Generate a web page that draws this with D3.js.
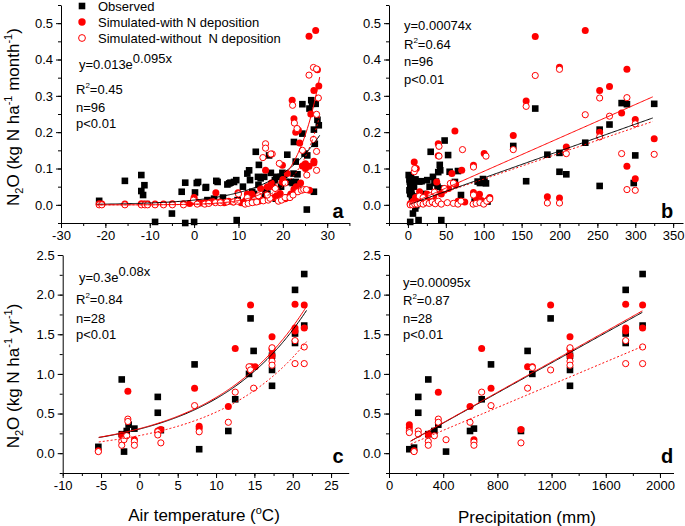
<!DOCTYPE html>
<html><head><meta charset="utf-8">
<script src="https://cdn.jsdelivr.net/npm/d3@7"></script>
<style>
html,body{margin:0;padding:0;background:#fff;}
svg{display:block;font-family:"Liberation Sans",Arial,sans-serif;}
</style></head>
<body><svg id="chart" width="685" height="526"></svg>
<script>
// ---------- DATA ----------
// Panel a: monthly N2O vs air temperature
const obsA = [[-21.4,0.011],[-15.6,0.066],[-11.9,0.082],[-11.9,0.038],[-11.2,0.054],[-11.5,0.027],[-10.7,0.002],[-8.8,-0.047],[-5.0,-0.024],[-2.8,0.036],[-2.0,0.061],[-2.0,-0.05],[0,-0.047],[0.2,0.034],[0.6,0.06],[0.9,0.063],[2.6,0.047],[3.0,0.013],[4.5,0.017],[5.3,0.063],[7.5,0.056],[7.9,0.059],[9.0,0.063],[9.5,0.068],[9.6,-0.042],[9.8,0.013],[12.0,0.086],[12.4,0.095],[12.6,0.068],[13.1,0.036],[13.5,0.03],[13.9,0.146],[14.6,0.11],[14.4,0.077],[15.8,0.077],[16.1,0.036],[16.5,0.031],[16.9,0.136],[17.6,0.057],[18.2,0.068],[18.4,0.017],[19.5,0.077],[19.9,0.088],[20.3,0.082],[20.6,0.063],[21.0,0.138],[21.8,0.063],[22.4,0.086],[22.5,0.173],[22.9,0.063],[23.3,0.084],[23.5,0.059],[24.4,0.277],[24.4,0.196],[24.9,0.141],[25.4,-0.013],[25.5,0.136],[26.0,0.265],[26.4,0.288],[26.6,0.278],[27.0,0.207],[27.2,0.168],[27.4,0.278],[27.8,0.234],[28.1,0.219],[27.0,0.036],[15.0,0.073],[17.3,0.088],[18.5,0.077],[22.2,0.06],[22.9,0.119],[8.2,0.061],[5.0,0.066],[2.7,0.049],[19.6,0.05],[21,0.02],[11,0.05],[6.5,0.02],[16,0.02],[14.5,0.055]];
const withA = [[-21.4,0.003],[-20.8,0.002],[-15.6,0.002],[-11.9,0.003],[-11.2,0.002],[-10.5,0.002],[-8.8,0.002],[-6.9,0.002],[-4.9,0.003],[-2.4,0.003],[-1,0.004],[0,0.02],[0.6,0.008],[1.5,0.005],[2.4,0.006],[3.3,0.005],[4.1,0.01],[4.9,0.033],[5.8,0.008],[6.8,0.006],[7.8,0.01],[8.8,0.008],[9.9,0.033],[10.6,0.006],[11.6,0.012],[12.4,0.02],[13,0.03],[13.6,0.008],[14.5,0.01],[15.2,0.012],[16.1,0.095],[16.5,0.05],[17,0.05],[17.4,0.06],[18,0.02],[18.6,0.025],[19.4,0.031],[19.9,0.109],[19.9,0.062],[20.5,0.017],[21,0.086],[21.4,0.022],[21.8,0.03],[22.1,0.288],[22.5,0.237],[22.9,0.2],[23.5,0.205],[22.5,0.043],[23.8,0.17],[24.4,0.107],[25.1,0.1],[25.1,0.113],[25.9,0.106],[25.9,0.464],[27.4,0.48],[27.0,0.315],[27.8,0.372],[28.1,0.327],[27.0,0.115],[27.0,0.12],[26.3,0.25],[24.0,0.06],[23,0.05],[26,0.04],[20,0.07],[15,0.045],[12,0.03]];
const withoutA = [[-21.4,0],[-20.8,0],[-15.6,0],[-11.9,0],[-11.1,0],[-10.5,0],[-8.8,0],[-6.9,0],[-4.9,0],[-2.4,0],[-0.15,0.013],[0.7,0.002],[2.4,0.002],[3.3,0.004],[4.8,0.006],[5.9,0.006],[7.4,0.008],[8.9,0.008],[9.8,0.01],[11.5,0.002],[12.2,0.004],[13.1,0.006],[14.1,0.008],[15.6,0.011],[16.7,0.013],[17.1,0.018],[16.5,0.027],[19,0.01],[19.7,0.013],[20.5,0.02],[21.6,0.02],[22.3,0.027],[23.4,0.036],[24.2,0.04],[24.7,0.042],[25.3,0.042],[16.1,0.168],[16.1,0.156],[17.6,0.14],[17.3,0.14],[19.2,0.114],[15.5,0.13],[25.9,0.357],[26.9,0.378],[27.6,0.374],[22.2,0.274],[22.6,0.225],[23.2,0.21],[28,0.294],[27.6,0.249],[25.4,0.082],[27.6,0.147],[27.6,0.095],[26.9,0.18],[24.4,0.15],[20.5,0.06],[18.3,0.045],[12,0.02],[14.5,0.025],[10,0.03]];

// Panel b: monthly N2O vs precipitation
const obsB = [[1,0.082],[2,0.07],[2.5,0.064],[3,0.055],[3.5,0.046],[4,0.077],[4.5,0.037],[5,0.027],[5.5,0.018],[6,0.013],[2,0.04],[3,0.03],[7,0.06],[8,0.05],[3,-0.047],[6.6,-0.024],[9.7,-0.01],[14,-0.042],[11,-0.001],[15,0.064],[12,0.023],[10,0.07],[25.5,0.068],[28.6,0.05],[30,0.146],[33,0.077],[35,0.06],[37,0.064],[39,0.05],[40,0.09],[42,0.11],[42.6,0.095],[44,-0.042],[48.4,0.177],[53,0.137],[55,0.091],[62,0.063],[66,0.093],[70,0.027],[88,0.009],[92,0.064],[95,0.06],[99,0.071],[101,0.064],[103,0.059],[105,0.009],[139,0.162],[156,0.065],[168,0.265],[184,0.138],[200,0.143],[200,0.091],[209,0.084],[234,0.171],[253,0.052],[253,0.207],[266,0.221],[282,0.28],[289,0.277],[300,0.136],[298,0.06],[325,0.278],[20,0.03],[18,0.065],[45,0.045]];
const withB = [[8.3,0.118],[11,0.1],[15.4,0.036],[40,0.168],[62,0.203],[58,0.086],[71,0.095],[38,0.063],[53.6,0.045],[86.5,0.109],[86.5,0.034],[94.4,0.029],[100.6,0.141],[106,0.015],[139,0.191],[156,0.286],[168,0.463],[184,0.022],[200,0.379],[200,0.019],[209,0.159],[234,0.48],[253,0.315],[253,0.2],[266,0.326],[282,0.253],[289,0.373],[289,0.106],[300,0.235],[300,0.072],[325,0.182],[3,0.003],[5,0.005],[7,0.01],[10,0.02],[13,0.008],[18,0.01],[22,0.012],[26,0.015],[30,0.02],[34,0.025],[44,0.03],[48,0.04],[63,0.055],[66,0.01],[75,0.008],[90,0.02],[97,0.012],[108,0.02],[40,0.135],[25,0.03]];
const withoutB = [[3,0],[6,0],[9,0.002],[12,0.002],[16,0.004],[20,0.002],[24,0.006],[28,0.004],[32,0.008],[36,0.003],[40,0.01],[44,0.002],[52,0.006],[60,0.004],[66,0.002],[70,0.01],[86,0.002],[90,0.004],[95,0.006],[100,0.002],[104,0.01],[108,0.016],[8.3,0.091],[9,0.1],[15,0.024],[41,0.161],[41,0.134],[72,0.152],[56,0.059],[86.5,0.104],[86.5,0.027],[103,0.134],[139,0.152],[156,0.271],[168,0.356],[184,0.005],[200,0.373],[200,0.005],[209,0.141],[234,0.248],[253,0.294],[253,0.187],[266,0.244],[282,0.141],[289,0.295],[289,0.042],[300,0.223],[300,0.04],[325,0.139],[48,0.045],[60,0.06],[30,0.025],[20,0.02],[35,0.035]];

// Panel c: annual N2O vs air temperature
const obsC = [[-5.35,0.08],[-2.3,0.93],[-2.3,0.24],[-2.0,0.02],[-1.65,0.28],[-1.4,0.36],[-0.65,0.31],[2.4,0.71],[2.4,0.51],[2.8,0.29],[7.2,1.12],[7.8,0.05],[11.6,0.28],[12.5,0.68],[14.5,1.70],[14.9,1.29],[14.3,1.0],[17.3,0.85],[17.3,1.05],[17.3,1.23],[20.3,2.06],[20.3,1.51],[20.3,1.39],[21.5,2.26],[21.5,1.61]];
const withC = [[-5.35,0.03],[-2.3,0.23],[-1.5,0.78],[-0.65,0.17],[2.4,0.28],[2.8,0.30],[7.2,0.82],[7.8,0.34],[7.8,0.31],[11.6,0.59],[12.5,1.32],[14.5,1.87],[14.6,1.09],[15.1,1.09],[17.3,1.47],[17.3,1.31],[17.3,1.23],[20.3,1.88],[20.3,1.58],[20.3,1.54],[21.5,1.87],[21.5,1.58]];
const withoutC = [[-5.35,0.02],[-2.3,0.15],[-2.3,0.10],[-2.0,0.17],[-1.65,0.22],[-1.5,0.43],[-1.5,0.40],[-0.65,0.15],[-0.65,0.10],[2.4,0.27],[2.4,0.23],[2.8,0.13],[7.2,0.60],[7.8,0.27],[11.6,0.39],[12.5,0.77],[14.3,1.09],[14.5,1.05],[14.9,0.82],[17.3,1.33],[17.3,1.16],[17.3,1.11],[20.3,1.42],[20.3,1.13],[21.5,1.34],[21.5,1.13]];

// Panel d: annual N2O vs precipitation
const obsD = [[150,0.05],[185,0.07],[216,0.71],[216,0.51],[290,0.93],[290,0.24],[335,0.28],[364,0.36],[421,0.02],[598,0.28],[627,0.31],[684,0.68],[753,1.12],[974,0.28],[1023,1.29],[1058,1.0],[1193,1.70],[1336,0.85],[1336,1.05],[1336,1.23],[1747,2.06],[1747,1.51],[1747,1.39],[1872,2.26],[1872,1.61]];
const withD = [[150,0.36],[150,0.32],[185,0.03],[290,0.24],[364,0.77],[598,0.59],[627,0.17],[684,1.32],[753,0.82],[974,0.30],[1023,1.09],[1058,1.09],[1193,1.87],[1336,1.47],[1336,1.31],[1336,1.23],[1747,1.88],[1747,1.58],[1747,1.54],[1872,1.87],[1872,1.58]];
const withoutD = [[150,0.28],[150,0.26],[185,0.02],[216,0.28],[216,0.24],[290,0.15],[290,0.10],[335,0.22],[364,0.43],[364,0.39],[421,0.17],[598,0.39],[627,0.14],[627,0.10],[684,0.77],[753,0.60],[974,0.13],[1023,0.82],[1058,1.08],[1193,1.05],[1336,1.33],[1336,1.16],[1336,1.11],[1747,1.42],[1747,1.13],[1872,1.34],[1872,1.13]];

// Fit lines (as drawn): exponential a*e^(b x) or linear k*x
const fitA = {obs:[0.013,0.095], with:[0.00182,0.186], without:[0.00113,0.19], x:[-22,28.3]};
const fitB = {obs:0.00074, with:0.00092, without:0.00071, x:[3,323]};
const fitC = {obs:[0.304,0.0816], with:[0.309,0.0821], without:[0.222,0.0847], x:[-5.3,21.8]};
const fitD = {obs:0.00095, with:0.00096, without:0.00072, x:[160,1870]};

const statsA = ["y=0.013e|0.095x","R2=0.45","n=96","p<0.01"];
const statsB = ["y=0.00074x","R2=0.64","n=96","p<0.01"];
const statsC = ["y=0.3e|0.08x","R2=0.84","n=28","p<0.01"];
const statsD = ["y=0.00095x","R2=0.87","n=28","p<0.01"];

const legendLabels = ["Observed","Simulated-with N deposition","Simulated-without\u00a0 N deposition"];

// ---------- DRAW ----------
const svg = d3.select("#chart");
const RED = "#ff0000";

function panel(o){
  const g = svg.append("g");
  const x = d3.scaleLinear().domain(o.xd).range(o.xr);
  const y = d3.scaleLinear().domain(o.yd).range(o.yr);
  const xMin = d3.range(o.xd[0], o.xd[1]+1e-9, o.xStep/2).filter(v=>v>=o.xd[0]);
  g.append("g").attr("transform",`translate(0,${o.yr[0]})`)
    .call(d3.axisBottom(x).tickValues(xMin).tickSize(3).tickFormat(""))
    .call(a=>a.select(".domain").remove());
  const yMin = d3.range(o.yd[0], o.yd[1]+1e-9, o.yStep/2);
  g.append("g").attr("transform",`translate(${o.xr[0]},0)`)
    .call(d3.axisLeft(y).tickValues(yMin).tickSize(3).tickFormat(""))
    .call(a=>a.select(".domain").remove());
  const ax = g.append("g").attr("transform",`translate(0,${o.yr[0]})`)
    .call(d3.axisBottom(x).tickValues(o.xTicks).tickSize(5).tickSizeOuter(0).tickPadding(3).tickFormat(d3.format("d")));
  const ay = g.append("g").attr("transform",`translate(${o.xr[0]},0)`)
    .call(d3.axisLeft(y).tickValues(o.yTicks).tickSize(5).tickSizeOuter(0).tickPadding(3).tickFormat(d3.format(".1f")));
  [ax,ay].forEach(a=>{
    a.selectAll("text").attr("font-size",13).attr("fill","#000").attr("font-family","Liberation Sans, Arial, sans-serif");
    a.selectAll("line,path").attr("stroke","#000");
  });
  ax.selectAll("text").text(d=>d<0?"-"+Math.abs(d):d);
  g.selectAll(".tick line").attr("stroke","#000");

  const pts = g.append("g");
  pts.selectAll("rect").data(o.obs).join("rect")
    .attr("x",d=>x(d[0])-3.3).attr("y",d=>y(d[1])-3.3).attr("width",6.6).attr("height",6.6).attr("fill","#000");
  pts.selectAll("circle.f").data(o.with).join("circle").attr("class","f")
    .attr("cx",d=>x(d[0])).attr("cy",d=>y(d[1])).attr("r",3.5).attr("fill",RED);
  pts.selectAll("circle.o").data(o.without).join("circle").attr("class","o")
    .attr("cx",d=>x(d[0])).attr("cy",d=>y(d[1])).attr("r",3.1).attr("fill","#fff").attr("stroke",RED).attr("stroke-width",1);

  const xs = d3.range(o.fit.x[0], o.fit.x[1]+1e-9, (o.fit.x[1]-o.fit.x[0])/200);
  const fn = p => Array.isArray(p) ? (v=>p[0]*Math.exp(p[1]*v)) : (v=>p*v);
  const line = d3.line().x(d=>x(d[0])).y(d=>y(d[1]));
  [["without",RED,"2,2"],["obs","#000",null],["with",RED,null]].forEach(([k,c,da])=>{
    const f = fn(o.fit[k]);
    g.append("path").datum(xs.map(v=>[v,f(v)])).attr("d",line)
      .attr("fill","none").attr("stroke",c).attr("stroke-width",1).attr("stroke-dasharray",da);
  });

  const st = g.append("g").attr("font-size",13).attr("fill","#000");
  o.stats.forEach((s,i)=>{
    const t = st.append("text").attr("x",o.statX + (i===0 && o.expo ? 3 : 0)).attr("y",o.statY[i]);
    if(s.includes("|")){
      const [b,e]=s.split("|");
      t.append("tspan").text(b);
      t.append("tspan").attr("dy",-6).attr("font-size",13).text(e);
    } else if(s.startsWith("R2")){
      t.append("tspan").text("R");
      t.append("tspan").attr("dy",-6).attr("font-size",8).text("2");
      t.append("tspan").attr("dy",6).text(s.slice(2));
    } else t.text(s);
  });
  svg.append("text").attr("x",o.letter[0]).attr("y",o.letter[1]).attr("font-size",20)
    .attr("font-weight","bold").attr("text-anchor","middle").text(o.letterText);
  return {x,y};
}

panel({xd:[-30,35], xr:[61,349.4], yd:[-0.05,0.55], yr:[223,5], xStep:10, yStep:0.1,
  xTicks:d3.range(-30,31,10), yTicks:[0,0.1,0.2,0.3,0.4,0.5],
  obs:obsA, with:withA, without:withoutA, fit:fitA, stats:statsA, expo:true,
  statX:76, statY:[69,94,112,128], letter:[338,218], letterText:"a"});
panel({xd:[-25,363], xr:[389,683], yd:[-0.05,0.55], yr:[223,5], xStep:50, yStep:0.1,
  xTicks:d3.range(0,351,50), yTicks:[0,0.1,0.2,0.3,0.4,0.5],
  obs:obsB, with:withB, without:withoutB, fit:fitB, stats:statsB,
  statX:404, statY:[30,49,66,84], letter:[667,218], letterText:"b"});
panel({xd:[-10,27.3], xr:[62.7,348.7], yd:[-0.25,2.5], yr:[473,255], xStep:5, yStep:0.5,
  xTicks:d3.range(-10,26,5), yTicks:[0,0.5,1,1.5,2,2.5],
  obs:obsC, with:withC, without:withoutC, fit:fitC, stats:statsC, expo:true,
  statX:76, statY:[282,304,323,339], letter:[338,463], letterText:"c"});
panel({xd:[0,2100], xr:[389,673.5], yd:[-0.25,2.5], yr:[473,255], xStep:400, yStep:0.5,
  xTicks:d3.range(0,2001,400), yTicks:[0,0.5,1,1.5,2,2.5],
  obs:obsD, with:withD, without:withoutD, fit:fitD, stats:statsD,
  statX:403, statY:[287,305,323,339], letter:[667,463], letterText:"d"});

function yTitle(cx,cy,unit){
  const t = svg.append("text").attr("transform",`translate(${cx},${cy}) rotate(-90)`)
    .attr("text-anchor","middle").attr("font-size",17).attr("fill","#000");
  t.append("tspan").text("N");
  t.append("tspan").attr("dy",4).attr("font-size",11).text("2");
  t.append("tspan").attr("dy",-4).text("O (kg N ha");
  t.append("tspan").attr("dy",-7).attr("font-size",11).text("-1");
  t.append("tspan").attr("dy",7).text("\u00a0"+unit);
  t.append("tspan").attr("dy",-7).attr("font-size",11).text("-1");
  t.append("tspan").attr("dy",7).text(")");
}
yTitle(19,117,"month");
yTitle(19,376,"yr");

const xt1 = svg.append("text").attr("x",204).attr("y",521).attr("text-anchor","middle").attr("font-size",17);
xt1.append("tspan").text("Air temperature (");
xt1.append("tspan").attr("dy",-7).attr("font-size",11).text("o");
xt1.append("tspan").attr("dy",7).text("C)");
svg.append("text").attr("x",527).attr("y",523).attr("text-anchor","middle").attr("font-size",17).text("Precipitation (mm)");

const lg = svg.append("g").attr("font-size",13);
const ly = [6,22,38];
lg.append("rect").attr("x",78.7).attr("y",ly[0]-3.3).attr("width",6.6).attr("height",6.6).attr("fill","#000");
lg.append("circle").attr("cx",82).attr("cy",ly[1]).attr("r",3.7).attr("fill",RED);
lg.append("circle").attr("cx",82).attr("cy",ly[2]).attr("r",3.4).attr("fill","#fff").attr("stroke",RED);
legendLabels.forEach((s,i)=>lg.append("text").attr("x",98).attr("y",ly[i]+4.5).text(s));
</script></body></html>
